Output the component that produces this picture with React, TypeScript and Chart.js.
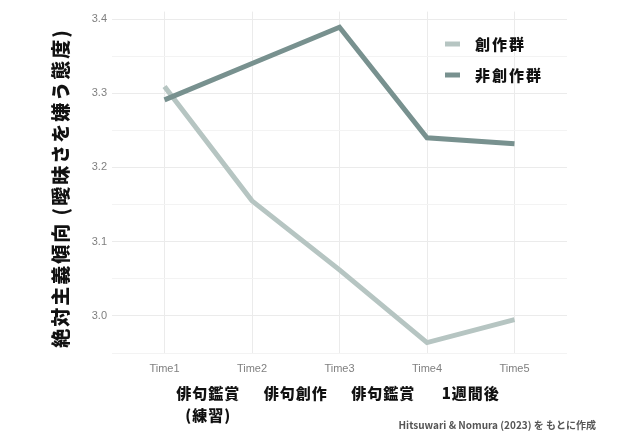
import React, { useEffect, useRef } from "react";
import { Chart, registerables } from "chart.js";

Chart.register(...registerables);

const CATEGORIES = ["Time1", "Time2", "Time3", "Time4", "Time5"];
const PHASE_LABELS = ["俳句鑑賞\n(練習)", "俳句創作", "俳句鑑賞", "1週間後"];
const SOUSAKU = [3.309, 3.155, 3.062, 2.964, 2.995];
const HI_SOUSAKU = [3.291, 3.34, 3.389, 3.24, 3.232];
const SERIES_NAMES = ["創作群", "非創作群"];
const Y_TICKS = [2.95, 3.0, 3.05, 3.1, 3.15, 3.2, 3.25, 3.3, 3.35, 3.4];
const Y_TITLE = "絶対主義傾向 (曖昧さを嫌う態度)";
const CAPTION = "Hitsuwari & Nomura (2023) を もとに作成";

const LIGHT = "#b6c5c2";
const DARK = "#78918f";
const JP = '"Noto Sans CJK JP", "Noto Sans", sans-serif';

const isMajor = (v: number) => Math.abs(v * 10 - Math.round(v * 10)) < 1e-6;

const overlay = {
  id: "overlay",
  afterDraw(chart: any) {
    const ctx = chart.ctx;
    const xs = chart.scales.x;
    ctx.save();
    // phase labels
    ctx.fillStyle = "#111";
    ctx.font = `900 15px ${JP}`;
    ctx.textAlign = "center";
    ctx.textBaseline = "middle";
    (ctx as any).letterSpacing = "1px";
    PHASE_LABELS.forEach((lab, i) => {
      const cx = (xs.getPixelForValue(i + 1) + xs.getPixelForValue(i + 2)) / 2;
      lab.split("\n").forEach((line, j) => {
        ctx.fillText(line, cx, 393 + j * 22);
      });
    });
    // legend
    const legendColors = [LIGHT, DARK];
    SERIES_NAMES.forEach((name, i) => {
      const y = 44 + i * 31;
      ctx.strokeStyle = legendColors[i];
      ctx.lineWidth = 5;
      ctx.beginPath();
      ctx.moveTo(445, y);
      ctx.lineTo(460, y);
      ctx.stroke();
      ctx.fillStyle = "#111";
      ctx.textAlign = "left";
      (ctx as any).letterSpacing = "2px";
      ctx.font = `900 15px ${JP}`;
      ctx.fillText(name, 475, y);
    });
    // y title
    ctx.save();
    ctx.translate(61, 188);
    ctx.rotate(-Math.PI / 2);
    ctx.textAlign = "center";
    ctx.fillStyle = "#111";
    (ctx as any).letterSpacing = "2px";
    ctx.font = `900 19px ${JP}`;
    ctx.fillText(Y_TITLE, 0, 0);
    ctx.restore();
    // caption
    (ctx as any).letterSpacing = "0px";
    ctx.textAlign = "right";
    ctx.fillStyle = "#555";
    ctx.font = `700 10px ${JP}`;
    ctx.fillText(CAPTION, 596, 425);
    ctx.restore();
  },
};

export default function App() {
  const ref = useRef<HTMLCanvasElement>(null);
  useEffect(() => {
    if (!ref.current) return;
    const chart = new Chart(ref.current, {
      type: "line",
      data: {
        datasets: [
          {
            label: SERIES_NAMES[0],
            data: SOUSAKU.map((v, i) => ({ x: i + 1, y: v })),
            borderColor: LIGHT,
            borderWidth: 5,
            pointRadius: 0,
            tension: 0,
            order: 1,
          },
          {
            label: SERIES_NAMES[1],
            data: HI_SOUSAKU.map((v, i) => ({ x: i + 1, y: v })),
            borderColor: DARK,
            borderWidth: 5,
            pointRadius: 0,
            tension: 0,
            order: 0,
          },
        ],
      },
      options: {
        animation: false,
        responsive: false,
        layout: { padding: { top: 5, right: 73, left: 0, bottom: 0 } },
        plugins: { legend: { display: false }, tooltip: { enabled: false } },
        scales: {
          x: {
            type: "linear",
            min: 0.4,
            max: 5.6,
            afterBuildTicks: (s: any) => {
              s.ticks = CATEGORIES.map((_, i) => ({ value: i + 1 }));
            },
            afterFit: (s: any) => {
              s.height = 80;
            },
            ticks: {
              callback: (v: any) => CATEGORIES[Math.round(v) - 1] ?? "",
              color: "#808080",
              font: { size: 11, family: '"Liberation Sans", Arial, sans-serif' },
              padding: 9,
              maxRotation: 0,
              autoSkip: false,
            },
            grid: { color: "#ebebeb", drawTicks: false, lineWidth: 1 },
            border: { display: false },
          },
          y: {
            type: "linear",
            min: 2.95,
            max: 3.41,
            afterBuildTicks: (s: any) => {
              s.ticks = Y_TICKS.map((v) => ({ value: v }));
            },
            afterFit: (s: any) => {
              s.width = 112;
            },
            ticks: {
              callback: (v: any) => (isMajor(Number(v)) ? Number(v).toFixed(1) : ""),
              color: "#808080",
              font: { size: 11, family: '"Liberation Sans", Arial, sans-serif' },
              padding: 5,
              autoSkip: false,
            },
            grid: {
              color: (c: any) => (isMajor(c.tick?.value ?? 0) ? "#ebebeb" : "#f3f3f3"),
              drawTicks: false,
              lineWidth: 1,
            },
            border: { display: false },
          },
        },
      },
      plugins: [overlay],
    } as any);
    return () => chart.destroy();
  }, []);
  return (
    <div style={{ position: "absolute", left: 0, top: 0, width: 640, height: 433, background: "#fff" }}>
      <canvas ref={ref} width={640} height={433} style={{ display: "block" }} />
    </div>
  );
}
